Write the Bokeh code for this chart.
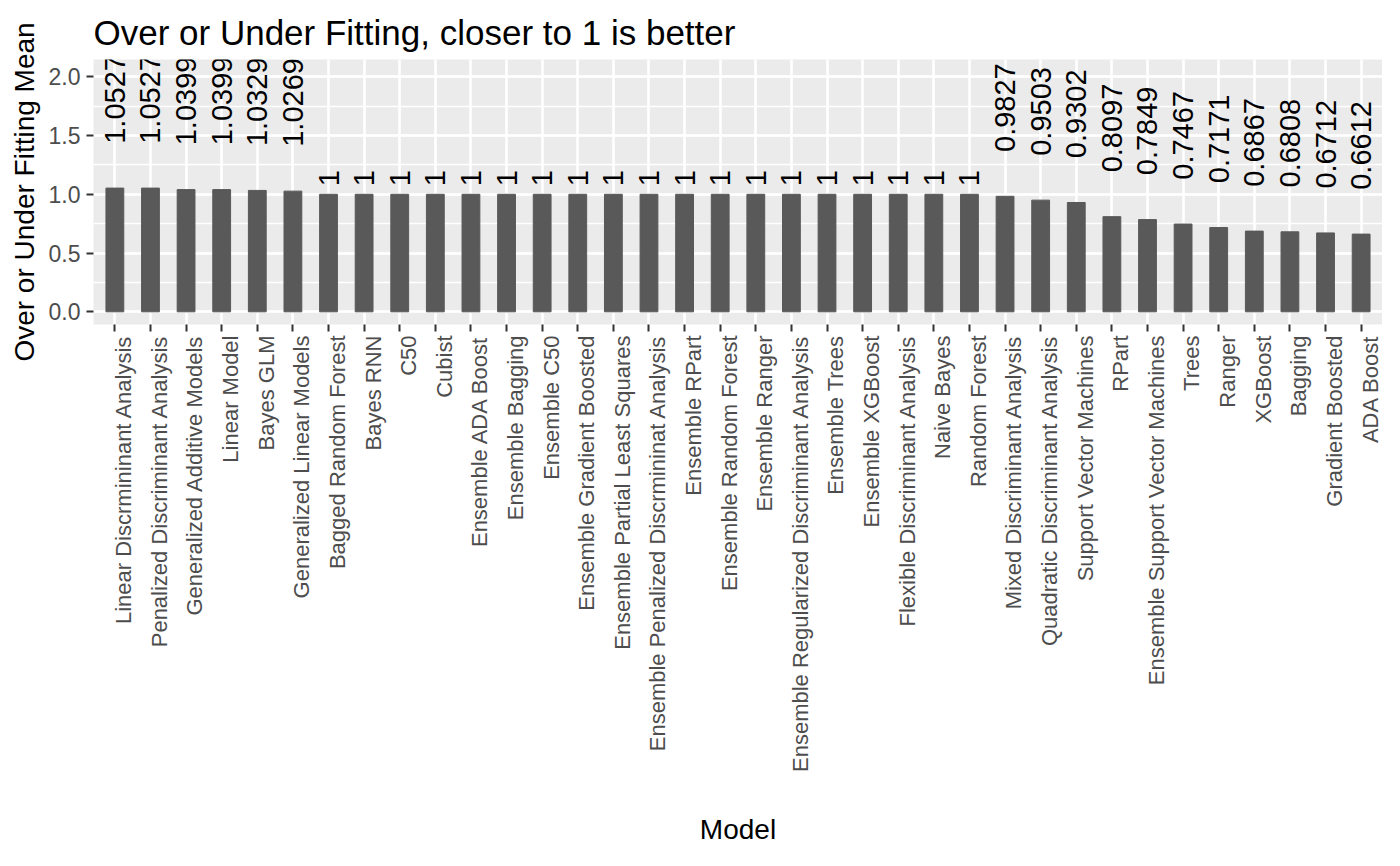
import math
from bokeh.plotting import figure
from bokeh.models import (Range1d, LinearAxis, FixedTicker,
                          SingleIntervalTicker, ColumnDataSource, NumeralTickFormatter)
from bokeh.core.properties import value
from bokeh.embed import file_html
from bokeh.resources import INLINE

# ---------------- data ----------------
models = [
    "Linear Discrmininant Analysis", "Penalized Discriminant Analysis",
    "Generalized Additive Models", "Linear Model", "Bayes GLM",
    "Generalized Linear Models", "Bagged Random Forest", "Bayes RNN", "C50",
    "Cubist", "Ensemble ADA Boost", "Ensemble Bagging", "Ensemble C50",
    "Ensemble Gradient Boosted", "Ensemble Partial Least Squares",
    "Ensemble Penalized Discrmininat Analysis", "Ensemble RPart",
    "Ensemble Random Forest", "Ensemble Ranger",
    "Ensemble Regularized Discriminant Analysis", "Ensemble Trees",
    "Ensemble XGBoost", "Flexible Discriminant Analysis", "Naive Bayes",
    "Random Forest", "Mixed Discriminant Analysis",
    "Quadratic Discriminant Analysis", "Support Vector Machines", "RPart",
    "Ensemble Support Vector Machines", "Trees", "Ranger", "XGBoost",
    "Bagging", "Gradient Boosted", "ADA Boost",
]
fit_mean = [
    1.0527, 1.0527, 1.0399, 1.0399, 1.0329, 1.0269, 1, 1, 1, 1, 1, 1, 1, 1,
    1, 1, 1, 1, 1, 1, 1, 1, 1, 1, 1, 0.9827, 0.9503, 0.9302, 0.8097, 0.7849,
    0.7467, 0.7171, 0.6867, 0.6808, 0.6712, 0.6612,
]
y_ticks = [0.0, 0.5, 1.0, 1.5, 2.0]

TITLE = "Over or Under Fitting, closer to 1 is better"
X_TITLE = "Model"
Y_TITLE = "Over or Under Fitting Mean"

# ---------------- style ----------------
FONT = "Liberation Sans"
LABEL_PX = 29
pos = list(range(len(models)))          # discrete positions of the categories
labels = [format(v, "g") for v in fit_mean]
# ggplot hjust = -0.5 : text starts half its own width above the bar top
half_w = [0.5 * LABEL_PX * sum(0.278 if ch == "." else 0.556 for ch in s) for s in labels]
src = ColumnDataSource(dict(pos=pos, model=models, val=fit_mean, label=labels,
                            yoff=[-h for h in half_w]))

p = figure(
    x_range=Range1d(-0.6, len(models) - 0.4),
    y_range=Range1d(-0.108, 2.147),
    frame_width=1289, frame_height=265,
    output_backend="svg", toolbar_location=None,
    title=TITLE,
    min_border_left=93, min_border_right=0, min_border_top=59, min_border_bottom=0,
)
p.background_fill_color = "#EBEBEB"
p.border_fill_color = "white"
p.outline_line_color = None

p.title.text_font = FONT
p.title.text_font_size = "35px"
p.title.text_font_style = "normal"
p.title.text_color = "black"
p.title.align = "left"
p.title.standoff = 15

p.vbar(x="pos", top="val", bottom=0, width=0.5, color="#595959", source=src)
p.text(x="pos", y="val", text="label", angle=math.pi / 2,
       text_align="left", text_baseline="alphabetic",
       text_font=value(FONT), text_font_size=f"{LABEL_PX}px", text_color="black",
       y_offset="yoff", source=src)

# x axis: ticks only (its labels are not drawn)
cat_ticker = FixedTicker(ticks=pos)
xax = p.xaxis[0]
xax.ticker = cat_ticker
xax.axis_line_color = None
xax.minor_tick_line_color = None
xax.major_tick_line_color = "#333333"
xax.major_tick_line_width = 2
xax.major_tick_out = 7
xax.major_tick_in = 0
xax.major_label_text_color = None
xax.major_label_standoff = 0

# grid
p.xgrid.ticker = cat_ticker
p.xgrid.grid_line_color = "white"
p.xgrid.grid_line_width = 2.6
p.ygrid.grid_line_color = "white"
p.ygrid.grid_line_width = 2.6
p.ygrid.minor_grid_line_color = "white"
p.ygrid.minor_grid_line_width = 1.3

# y axis
yax = p.yaxis[0]
yax.ticker = SingleIntervalTicker(interval=0.5, num_minor_ticks=2)
yax.formatter = NumeralTickFormatter(format="0.0")
yax.axis_line_color = None
yax.minor_tick_line_color = None
yax.major_tick_line_color = "#333333"
yax.major_tick_line_width = 2
yax.major_tick_out = 7
yax.major_tick_in = 0
yax.major_label_text_font = FONT
yax.major_label_text_font_size = "23px"
yax.major_label_text_color = "#4D4D4D"
yax.major_label_standoff = 6
yax.axis_label = Y_TITLE
yax.axis_label_text_font = FONT
yax.axis_label_text_font_size = "28px"
yax.axis_label_text_font_style = "normal"
yax.axis_label_text_color = "black"
yax.axis_label_standoff = 6

# x axis: category labels (shifted so the cap-top of the rotated text sits at the tick)
shift = 0.25
p.extra_x_ranges = {"lab": Range1d(start=-0.6 - shift, end=len(models) - 0.4 - shift)}
lab = LinearAxis(x_range_name="lab",
                 ticker=FixedTicker(ticks=pos),
                 major_label_overrides={i: m for i, m in zip(pos, models)},
                 major_label_orientation=math.pi / 2)
lab.axis_line_color = None
lab.major_tick_line_color = None
lab.minor_tick_line_color = None
lab.major_tick_out = 0
lab.major_tick_in = 0
lab.major_label_standoff = 4
lab.major_label_text_font = FONT
lab.major_label_text_font_size = "22px"
lab.major_label_text_color = "#4D4D4D"
lab.axis_label = X_TITLE
lab.axis_label_text_font = FONT
lab.axis_label_text_font_size = "28px"
lab.axis_label_text_font_style = "normal"
lab.axis_label_text_color = "black"
lab.axis_label_standoff = 39
p.add_layout(lab, "below")

open("out.html", "w").write(file_html(p, INLINE))
